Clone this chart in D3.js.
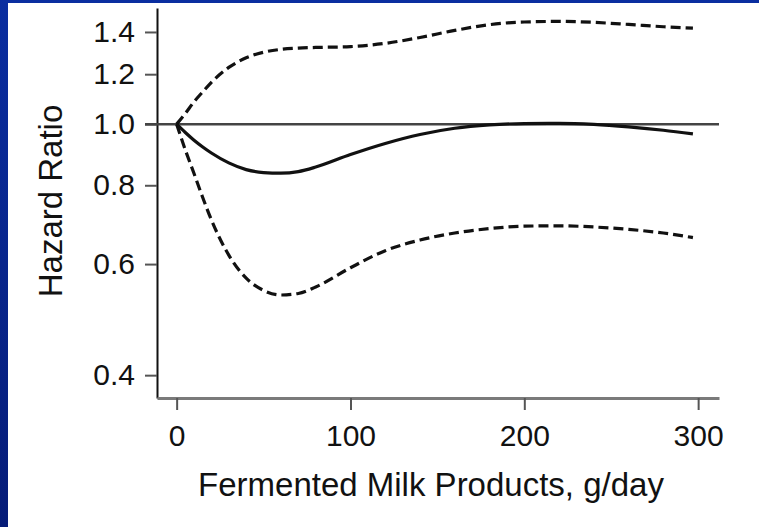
<!DOCTYPE html>
<html>
<head>
<meta charset="utf-8">
<script src="https://cdn.jsdelivr.net/npm/d3@7"></script>
<style>
  body { margin: 0; padding: 0; }
  svg { display: block; }
</style>
</head>
<body>
<svg class="chart-svg" width="759" height="527"></svg>
<script>
'use strict'

// fermented milk intake, g/day
const dose = [0, 5, 10, 15, 20, 30, 40, 50, 60, 70, 80, 100, 120, 140, 160, 180, 200, 220, 240, 260, 280, 297]
// hazard ratio estimate
const hrEstimate = [1.0, 0.97, 0.943, 0.92, 0.9, 0.868, 0.847, 0.838, 0.836, 0.841, 0.855, 0.895, 0.932, 0.963, 0.985, 0.997, 1.002, 1.003, 0.999, 0.99, 0.978, 0.965]
// upper 95% CI
const hrUpper = [1.0, 1.04, 1.085, 1.125, 1.165, 1.23, 1.274, 1.3, 1.314, 1.32, 1.323, 1.327, 1.343, 1.372, 1.408, 1.438, 1.452, 1.455, 1.45, 1.439, 1.427, 1.42]
// lower 95% CI
const hrLower = [1.0, 0.91, 0.835, 0.765, 0.705, 0.62, 0.57, 0.545, 0.536, 0.539, 0.552, 0.592, 0.63, 0.655, 0.672, 0.683, 0.689, 0.69, 0.687, 0.681, 0.672, 0.661]

const xTicks = [0, 100, 200, 300]
const yTicks = [0.4, 0.6, 0.8, 1.0, 1.2, 1.4]
const xTitle = 'Fermented Milk Products, g/day'
const yTitle = 'Hazard Ratio'

const svg = d3.select('.chart-svg')
const font = '"Liberation Sans", Arial, sans-serif'

// slide background: blue frame on top and left
const defs = svg.append('defs')
const grad = defs.append('linearGradient')
  .attr('id', 'frame').attr('x1', 0).attr('y1', 0).attr('x2', 0).attr('y2', 1)
grad.append('stop').attr('offset', '0%').attr('stop-color', '#0a2ea0')
grad.append('stop').attr('offset', '100%').attr('stop-color', '#061c78')

svg.append('rect').attr('width', 759).attr('height', 527).attr('fill', 'url(#frame)')
svg.append('rect').attr('x', 8).attr('y', 3).attr('width', 751).attr('height', 524).attr('fill', '#ffffff')

const plot = { left: 157, right: 719, top: 8, bottom: 398 }

const xScale = d3.scaleLinear().domain([-11.3, 312]).range([plot.left, plot.right])
const yScale = d3.scaleLog().domain([0.368, 1.528]).range([plot.bottom, plot.top])

// y axis
const yAxis = d3.axisLeft(yScale)
  .tickValues(yTicks)
  .tickFormat(d3.format('.1f'))
  .tickSize(12)
  .tickSizeOuter(0)
  .tickPadding(10)

const gy = svg.append('g')
  .attr('transform', 'translate(' + plot.left + ',0)')
  .call(yAxis)
gy.select('.domain').attr('stroke', '#111').attr('stroke-width', 2)
gy.selectAll('.tick line').attr('stroke', '#555').attr('stroke-width', 2)
gy.selectAll('.tick text')
  .style('font-family', font)
  .style('font-size', '30px')
  .attr('fill', '#111')

// x axis
const xAxis = d3.axisBottom(xScale)
  .tickValues(xTicks)
  .tickSize(12)
  .tickSizeOuter(0)
  .tickPadding(15)

const gx = svg.append('g')
  .attr('transform', 'translate(0,' + plot.bottom + ')')
  .call(xAxis)
gx.select('.domain').attr('stroke', '#7a7a7a').attr('stroke-width', 3)
gx.selectAll('.tick line').attr('stroke', '#555').attr('stroke-width', 2)
gx.selectAll('.tick text')
  .style('font-family', font)
  .style('font-size', '30px')
  .attr('fill', '#111')

// reference line at HR = 1
svg.append('line')
  .attr('x1', plot.left - 12).attr('x2', plot.right)
  .attr('y1', yScale(1)).attr('y2', yScale(1))
  .attr('stroke', '#444')
  .attr('stroke-width', 2.5)

const line = function (values) {
  return d3.line()
    .curve(d3.curveMonotoneX)
    .x(function (d, i) { return xScale(dose[i]) })
    .y(function (d) { return yScale(d) })(values)
}

svg.append('path')
  .attr('d', line(hrUpper))
  .attr('fill', 'none')
  .attr('stroke', '#111')
  .attr('stroke-width', 3.2)
  .attr('stroke-dasharray', '10,5')

svg.append('path')
  .attr('d', line(hrLower))
  .attr('fill', 'none')
  .attr('stroke', '#111')
  .attr('stroke-width', 3.2)
  .attr('stroke-dasharray', '10,5')

svg.append('path')
  .attr('d', line(hrEstimate))
  .attr('fill', 'none')
  .attr('stroke', '#111')
  .attr('stroke-width', 3.2)

// axis titles
svg.append('text')
  .attr('x', 431).attr('y', 496)
  .attr('text-anchor', 'middle')
  .attr('font-family', font)
  .attr('font-size', 33)
  .attr('fill', '#111')
  .text(xTitle)

svg.append('text')
  .attr('transform', 'translate(62,201) rotate(-90)')
  .attr('text-anchor', 'middle')
  .attr('font-family', font)
  .attr('font-size', 33)
  .attr('fill', '#111')
  .text(yTitle)
</script>
</body>
</html>
